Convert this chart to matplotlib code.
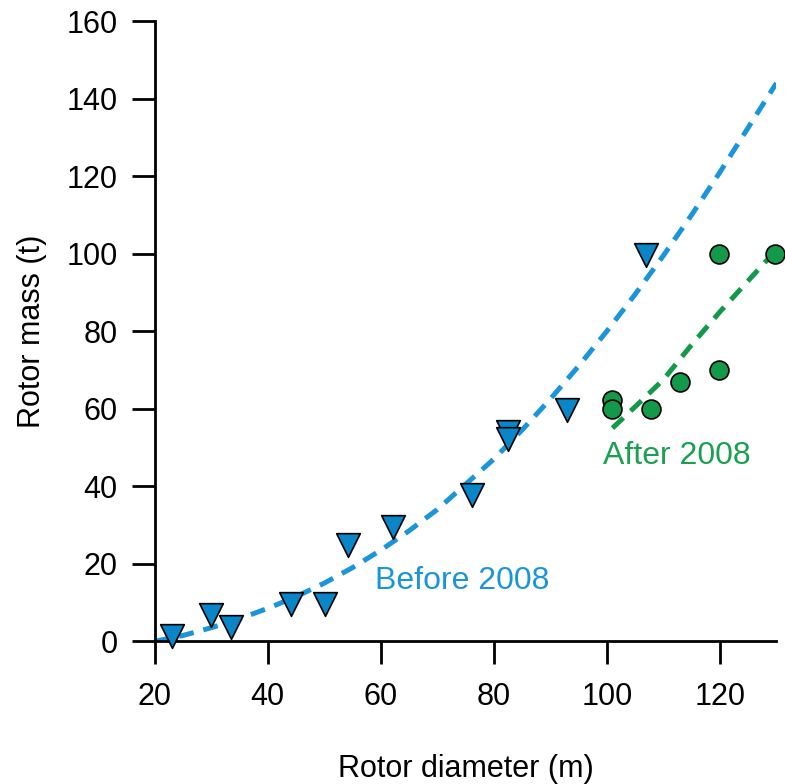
import numpy as np
import matplotlib.pyplot as plt

plt.rcParams['font.family'] = ['Liberation Sans', 'DejaVu Sans']

# Rotor data
before_diam = [23.1, 30.0, 33.5, 44.1, 50.1, 54.2, 62.1, 76.1, 82.5, 82.5, 92.9, 107.0]
before_mass = [1.4, 6.7, 3.7, 9.7, 9.5, 24.8, 29.5, 37.7, 54.0, 52.3, 59.6, 99.6]

after_diam = [100.9, 100.9, 107.9, 112.9, 119.9, 119.9, 129.7]
after_mass = [62.2, 60.0, 60.0, 66.9, 69.9, 100.0, 100.0]

# fitted trend lines
fit_before_x = [20, 25, 30, 35, 40, 45, 50, 55, 60, 65, 70, 75, 80, 85, 90, 95,
                100, 105, 110, 115, 120, 125, 130]
fit_before_y = [0, 1.5, 3.5, 5.8, 8.5, 11.5, 15, 19, 23.5, 28.5, 34, 40.5, 47,
                54.5, 62.5, 71, 80, 89.5, 99.5, 110, 121, 132.5, 144]
fit_after_x = [101, 105, 110, 115, 120, 125, 130]
fit_after_y = [55, 60.5, 67.5, 76.5, 85, 93, 101]

blue = '#0a86c8'
blue_line = '#1b95d9'
green = '#13994a'
fs = 22

fig = plt.figure(figsize=(7.85, 7.84), dpi=100)
ax = fig.add_axes([0.197, 0.182, 0.792, 0.791])

ax.plot(fit_before_x, fit_before_y, color=blue_line, lw=3.6, dashes=(3, 2),
        dash_capstyle='butt', zorder=2)
ax.plot(fit_after_x, fit_after_y, color=green, lw=3.6, dashes=(3, 2),
        dash_capstyle='butt', zorder=2)

ax.scatter(before_diam, before_mass, marker='v', s=290, color=blue,
           edgecolor='black', linewidth=1.2, zorder=3, clip_on=False)
ax.scatter(after_diam, after_mass, marker='o', s=185, color=green,
           edgecolor='black', linewidth=1.2, zorder=3, clip_on=False)

ax.text(58.9, 15.5, 'Before 2008', color=blue_line, fontsize=23, va='center', ha='left')
ax.text(99.3, 47.7, 'After 2008', color='#1aa04f', fontsize=23, va='center', ha='left')

ax.set_xlim(20, 130)
ax.set_ylim(0, 160)
ax.set_xticks([20, 40, 60, 80, 100, 120])
ax.set_yticks([0, 20, 40, 60, 80, 100, 120, 140, 160])

ax.spines['top'].set_visible(False)
ax.spines['right'].set_visible(False)
for s in ['left', 'bottom']:
    ax.spines[s].set_linewidth(2)

ax.tick_params(direction='out', length=16.5, width=2, labelsize=fs)
ax.tick_params(axis='x', pad=13)
ax.tick_params(axis='y', pad=10)

ax.set_xlabel('Rotor diameter (m)', fontsize=fs, labelpad=30)
ax.set_ylabel('Rotor mass (t)', fontsize=fs, labelpad=14)

fig.savefig('out.png', dpi=100)
